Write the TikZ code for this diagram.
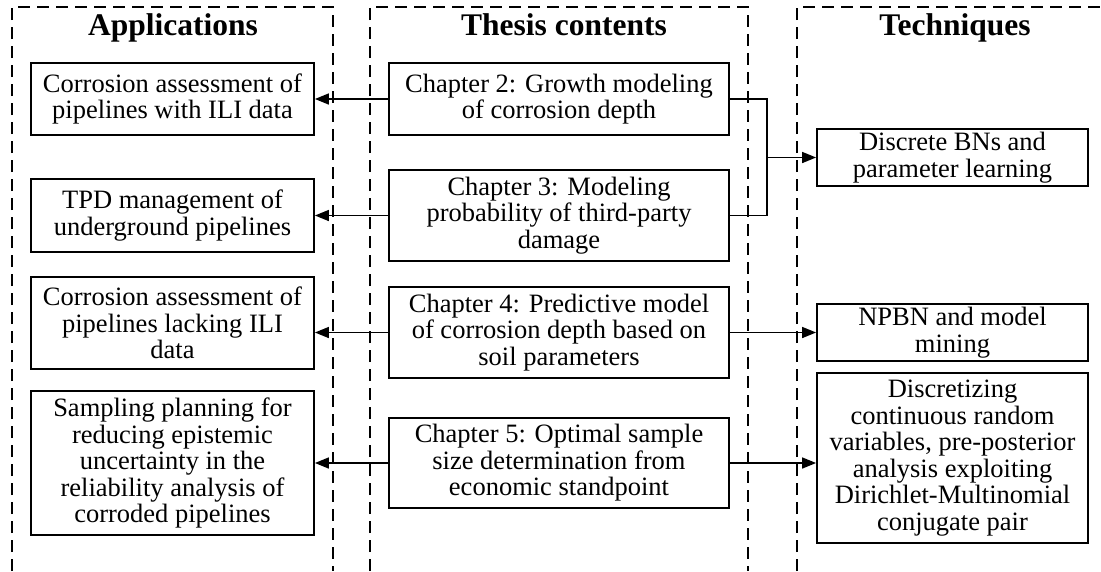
\documentclass[tikz,border=0pt]{standalone}
\usepackage{fontspec}
\setmainfont{Liberation Serif}
\usetikzlibrary{arrows.meta,positioning,calc}

\begin{document}
\begin{tikzpicture}[
  x=1pt, y=-1pt,
  >={Triangle[length=14pt,width=11pt]},
  every node/.style={font=\fontsize{26.5}{26.5}\selectfont},
  frame/.style={line width=1.6pt, dash pattern=on 12pt off 7pt},
  title/.style={anchor=base, font=\fontsize{31.5}{31.5}\selectfont\bfseries},
  app/.style={draw, line width=1.8pt, align=center, inner sep=2pt, minimum width=283pt},
  chap/.style={draw, line width=1.8pt, align=center, inner sep=2pt, minimum width=340pt},
  tech/.style={draw, line width=1.8pt, align=center, inner sep=2pt, minimum width=271pt},
  link/.style={->, line width=1.6pt}
]
\useasboundingbox (0,0) rectangle (1101,571);

% dashed columns, open at the bottom
\draw[frame] (12,571) -- (12,7) -- (333,7) -- (333,571);
\draw[frame] (370,571) -- (370,7) -- (748,7) -- (748,571);
\draw[frame] (797,571) -- (797,7) -- (1101,7);

\node[title] (tApp) at (173,35) {Applications};
\node[title] (tThe) at (564,35) {Thesis contents};
\node[title] (tTec) at (955,35) {Techniques};

% applications
\node[app, minimum height=72pt] (A1) at (172.5,99) {Corrosion assessment of\\pipelines with ILI data};
\node[app, minimum height=73pt] (A2) at (172.5,215.5) {TPD management of\\underground pipelines};
\node[app, minimum height=92pt] (A3) at (172.5,323) {Corrosion assessment of\\pipelines lacking ILI\\data};
\node[app, minimum height=144pt] (A4) at (172.5,463) {Sampling planning for\\reducing epistemic\\uncertainty in the\\reliability analysis of\\corroded pipelines};

% chapters
\node[chap, minimum height=72pt] (C2) at (559,99) {Chapter 2: Growth modeling\\of corrosion depth};
\node[chap, minimum height=91pt] (C3) at (559,215.5) {Chapter 3: Modeling\\probability of third-party\\damage};
\node[chap, minimum height=91pt] (C4) at (559,332.5) {Chapter 4: Predictive model\\of corrosion depth based on\\soil parameters};
\node[chap, minimum height=90pt] (C5) at (559,463) {Chapter 5: Optimal sample\\size determination from\\economic standpoint};

% techniques
\node[tech, minimum height=57pt] (T1) at (952.5,157.5) {Discrete BNs and\\parameter learning};
\node[tech, minimum height=57pt] (T2) at (952.5,332.5) {NPBN and model\\mining};
\node[tech, minimum height=170pt] (T3) at (952.5,458) {Discretizing\\continuous random\\variables, pre-posterior\\analysis exploiting\\Dirichlet-Multinomial\\conjugate pair};

\coordinate (jn) at (767,157.5);

\draw[link] (C2.west) -- (C2.west -| A1.east);
\draw[link] (C3.west) -- (C3.west -| A2.east);
\draw[link] (C4.west) -- (C4.west -| A3.east);
\draw[link] (C5.west) -- (C5.west -| A4.east);
\draw[line width=1.6pt] (C2.east) -| (jn) |- (C3.east);
\draw[link] (jn) -- (jn -| T1.west);
\draw[link] (C4.east) -- (C4.east -| T2.west);
\draw[link] (C5.east) -- (C5.east -| T3.west);
\end{tikzpicture}
\end{document}
